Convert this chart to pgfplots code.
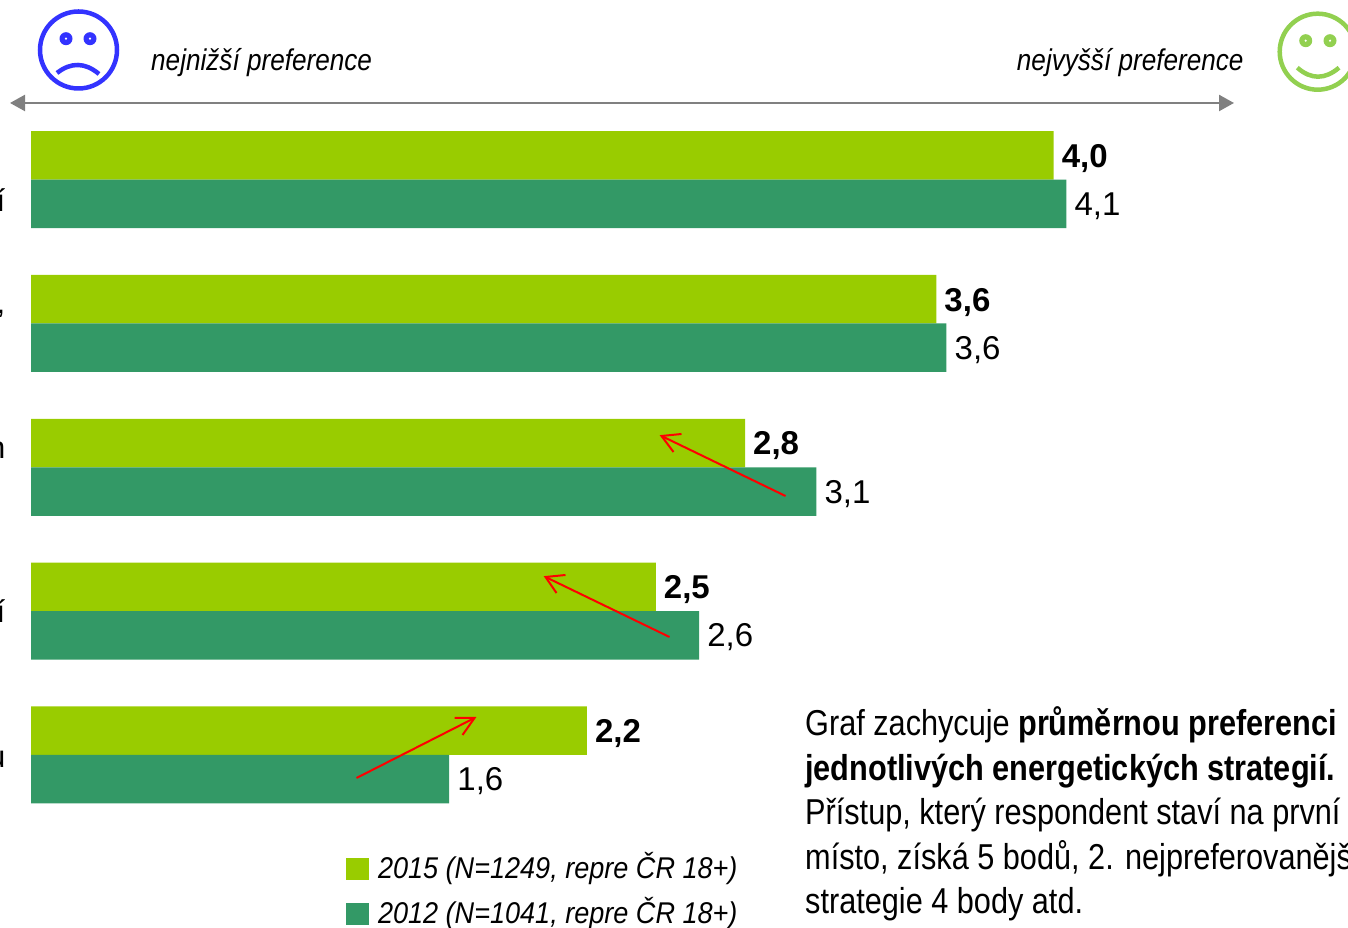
\documentclass[border=0pt]{standalone}
\usepackage{fontspec}
\setmainfont{Liberation Sans}
\newfontfamily\narrow[FakeStretch=0.852]{Liberation Sans}
\newfontfamily\topnarrow[FakeStretch=0.871]{Liberation Sans}
\newfontfamily\legnarrow[FakeStretch=0.902]{Liberation Sans}
\usepackage{pgfplots}
\usepackage{pgfplotstable}
\pgfplotsset{compat=1.18}
\usetikzlibrary{arrows.meta}
\definecolor{lime15}{HTML}{99CC00}
\definecolor{green12}{HTML}{339966}
\definecolor{sadblue}{HTML}{3333FF}
\definecolor{happygreen}{HTML}{92D050}
\pgfplotstableread{
pos val lab
0 4.01 4,0
1 3.55 3,6
2 2.80 2,8
3 2.45 2,5
4 2.18 2,2
}\dataA
\pgfplotstableread{
pos val lab
0 4.06 4,1
1 3.59 3,6
2 3.08 3,1
3 2.62 2,6
4 1.64 1,6
}\dataB
\begin{document}
\begin{tikzpicture}[x=1pt,y=1pt]
\clip (0,0) rectangle (1348,928);
\begin{axis}[
  at={(0,0)},anchor=south west,
  scale only axis,width=1348pt,height=928pt,
  hide axis,
  xbar,
  y dir=reverse,
  xmin=-0.12157,xmax=5.1647,
  ymin=-1.2504,ymax=5.2052,
  bar width=48.5pt,
  nodes near coords,
  nodes near coords align={horizontal},
  point meta=explicit symbolic,
  every node near coord/.append style={anchor=west,inner sep=0pt,xshift=8pt,text=black},
  legend style={at={(rel axis cs:0.2567,0.0815)},anchor=north west,draw=none,fill=none,inner sep=0pt,outer sep=0pt,
    font={\fontsize{30}{32}\legnarrow\itshape},
    row sep=17.5pt,
    nodes={inner sep=0pt,anchor=base west},
    /tikz/every odd column/.append style={column sep=9pt}},
  legend cell align=left,
  legend image code/.code={\fill[#1] (0pt,-1pt) rectangle (23pt,21pt);},
]
\addplot[fill=lime15,draw=none,bar shift=24.25pt,
  every node near coord/.append style={font=\fontsize{33}{36}\selectfont\bfseries,yshift=-3pt}]
  table[y=pos,x=val,meta=lab]{\dataA};
\addlegendentry{2015 (N=1249, repre ČR 18+)}
\addplot[fill=green12,draw=none,bar shift=-24.25pt,
  every node near coord/.append style={font=\fontsize{33}{36}\selectfont,yshift=-2.3pt}]
  table[y=pos,x=val,meta=lab]{\dataB};
\addlegendentry{2012 (N=1041, repre ČR 18+)}
\end{axis}
\begin{scope}[shift={(0pt,928pt)},x=1pt,y=-1pt]
  % top scale arrow
  \draw[draw=gray,line width=2.3pt,{Triangle[length=15pt,width=16pt]}-{Triangle[length=15pt,width=16pt]}] (10,103) -- (1234,103);
  \node[anchor=base west,inner sep=0,font=\fontsize{30}{34}\topnarrow\itshape] at (151,71) {nejnižší preference};
  \node[anchor=base east,inner sep=0,font=\fontsize{30}{34}\topnarrow\itshape] at (1243.7,71) {nejvyšší preference};
  % sad face
  \draw[sadblue,line width=4.5pt] (78.5,50) circle[x radius=38.5,y radius=38.5];
  \fill[sadblue] (66,38.7) circle[x radius=6.5,y radius=6.5] (90,38.7) circle[x radius=6.5,y radius=6.5];
  \fill[white] (66,38.7) circle[x radius=1.2,y radius=1.2] (90,38.7) circle[x radius=1.2,y radius=1.2];
  \draw[sadblue,line width=4.5pt] (57,73) .. controls (71,62) and (85,62.3) .. (99,74);
  % happy face
  \draw[happygreen,line width=4.5pt] (1317.7,51.7) circle[x radius=38,y radius=38];
  \fill[happygreen] (1305.7,40.7) circle[x radius=6.5,y radius=6.5] (1330,40.7) circle[x radius=6.5,y radius=6.5];
  \fill[white] (1305.7,40.7) circle[x radius=1.2,y radius=1.2] (1330,40.7) circle[x radius=1.2,y radius=1.2];
  \draw[happygreen,line width=4.5pt] (1297.3,67.7) .. controls (1311,79.7) and (1325,79.7) .. (1339,67.7);
  % red arrows
  \begin{scope}[red,line width=2pt]
    \draw (785.5,496) -- (661.5,436);
    \draw (681.5,434) -- (661.5,436) -- (673.5,452);
    \draw (669.5,637) -- (545.5,577);
    \draw (565.5,575) -- (545.5,577) -- (556.5,593);
    \draw (356.5,778) -- (474.5,718);
    \draw (454.5,718) -- (474.5,718) -- (462.5,735);
  \end{scope}
  % cut-off category labels
  \begin{scope}[every node/.style={anchor=base east,inner sep=0,font=\fontsize{31}{34}\selectfont}]
    \node at (5.5,212) {í};
    \node at (5.5,314) {,};
    \node at (5.5,458.5) {n};
    \node at (5.5,623) {í};
    \node at (5.5,768) {u};
  \end{scope}
  % note
  \begin{scope}[every node/.style={anchor=base west,inner sep=0,font=\fontsize{36}{40}\narrow}]
    \node at (805,735.5) {Graf zachycuje \bfseries průměrnou preferenci};
    \node at (805,780.1) {\bfseries jednotlivých energetických strategií.};
    \node at (805,824.7) {Přístup, který respondent staví na první};
    \node at (805,869.3) {místo, získá 5 bodů, 2. nejpreferovanější};
    \node at (805,913.9) {strategie 4 body atd.};
  \end{scope}
\end{scope}
\end{tikzpicture}
\end{document}
